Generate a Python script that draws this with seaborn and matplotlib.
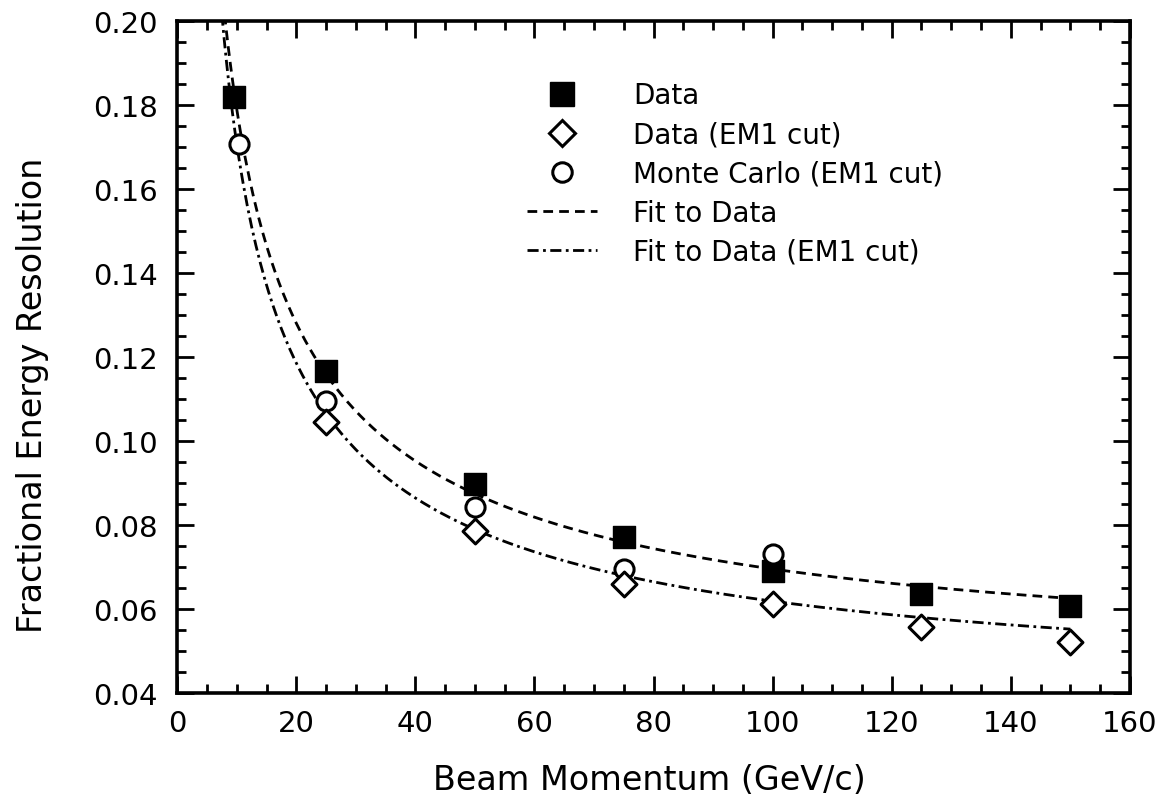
import numpy as np
import matplotlib
matplotlib.use("Agg")
import matplotlib.pyplot as plt
from matplotlib.lines import Line2D
from matplotlib.ticker import MultipleLocator, FormatStrFormatter
import seaborn as sns

# valori (impulso in GeV/c, risoluzione frazionaria)
p_data = [9.6, 25, 50, 75, 100, 125, 150]
res_data = [0.182, 0.1167, 0.0898, 0.0771, 0.0690, 0.0636, 0.0607]

p_em1 = [25, 50, 75, 100, 125, 150]
res_em1 = [0.1045, 0.0786, 0.0660, 0.0612, 0.0557, 0.0521]

p_mc = [10.4, 25, 50, 75, 100]
res_mc = [0.1707, 0.1095, 0.0843, 0.0695, 0.0731]

# parametri dei fit: sigma/E = sqrt(a^2/p + b^2 + c^2/p^2)
fit_data = (0.5226, 0.0455, 0.515)
fit_em1 = (0.4743, 0.0390, 0.7155)
fit_range = (7.5, 150)

labels = ["Data", "Data (EM1 cut)", "Monte Carlo (EM1 cut)",
          "Fit to Data", "Fit to Data (EM1 cut)"]


def fit_curve(p, pars):
    a, b, c = pars
    return np.sqrt(a**2 / p + b**2 + c**2 / p**2)


sns.set_style("ticks")
plt.rcParams['font.family'] = ['DejaVu Sans']
plt.rcParams['text.color'] = 'black'
plt.rcParams['axes.labelcolor'] = 'black'

fig = plt.figure(figsize=(11.66, 8.03), dpi=100)
ax = fig.add_axes([0.152, 0.136, 0.817, 0.8366])

p_grid = np.linspace(fit_range[0], fit_range[1], 400)
dash_data = (0, (3.5, 2.2))
dash_em1 = (0, (4, 1.6, 1, 1.6))

sns.lineplot(x=p_grid, y=fit_curve(p_grid, fit_data), ax=ax, color='black',
             lw=2, linestyle=dash_data, zorder=2)
sns.lineplot(x=p_grid, y=fit_curve(p_grid, fit_em1), ax=ax, color='black',
             lw=2, linestyle=dash_em1, zorder=2)

sns.scatterplot(x=p_data, y=res_data, ax=ax, marker='s', s=230,
                color='black', edgecolor='black', linewidth=1, zorder=3)
sns.scatterplot(x=p_mc, y=res_mc, ax=ax, marker='o', s=190,
                color='white', edgecolor='black', linewidth=2.2, zorder=4)
sns.scatterplot(x=p_em1, y=res_em1, ax=ax, marker='D', s=160,
                color='white', edgecolor='black', linewidth=2.2, zorder=5)

ax.set_xlim(0, 160)
ax.set_ylim(0.04, 0.20)
ax.xaxis.set_major_locator(MultipleLocator(20))
ax.xaxis.set_minor_locator(MultipleLocator(5))
ax.yaxis.set_major_locator(MultipleLocator(0.02))
ax.yaxis.set_minor_locator(MultipleLocator(0.005))
ax.yaxis.set_major_formatter(FormatStrFormatter('%.2f'))

for side in ax.spines.values():
    side.set_linewidth(2.6)
    side.set_color('black')

ax.tick_params(which='both', direction='in', top=True, right=True,
               width=2, color='black', labelsize=21, labelcolor='black')
ax.tick_params(which='major', length=12)
ax.tick_params(which='minor', length=6.5)
ax.tick_params(axis='y', which='major', pad=14)
ax.tick_params(axis='x', which='major', pad=12)

ax.set_xlabel("Beam Momentum (GeV/c)", fontsize=24, color='black')
ax.set_ylabel("Fractional Energy Resolution", fontsize=24, color='black')
ax.xaxis.set_label_coords(0.496, -0.105)
ax.yaxis.set_label_coords(-0.135, 0.445)

handles = [
    Line2D([], [], ls='none', marker='s', ms=17, mfc='black', mec='black'),
    Line2D([], [], ls='none', marker='D', ms=13, mfc='white', mec='black', mew=2.2),
    Line2D([], [], ls='none', marker='o', ms=14, mfc='white', mec='black', mew=2.2),
    Line2D([], [], color='black', lw=2, linestyle=dash_data),
    Line2D([], [], color='black', lw=2, linestyle=dash_em1),
]
ax.legend(handles, labels, loc='upper left', bbox_to_anchor=(0.3675, 0.91),
          frameon=False, fontsize=20, handlelength=2.5, handletextpad=1.3,
          labelspacing=0.4, borderpad=0, borderaxespad=0, labelcolor='black')

fig.savefig("out.png", dpi=100)
